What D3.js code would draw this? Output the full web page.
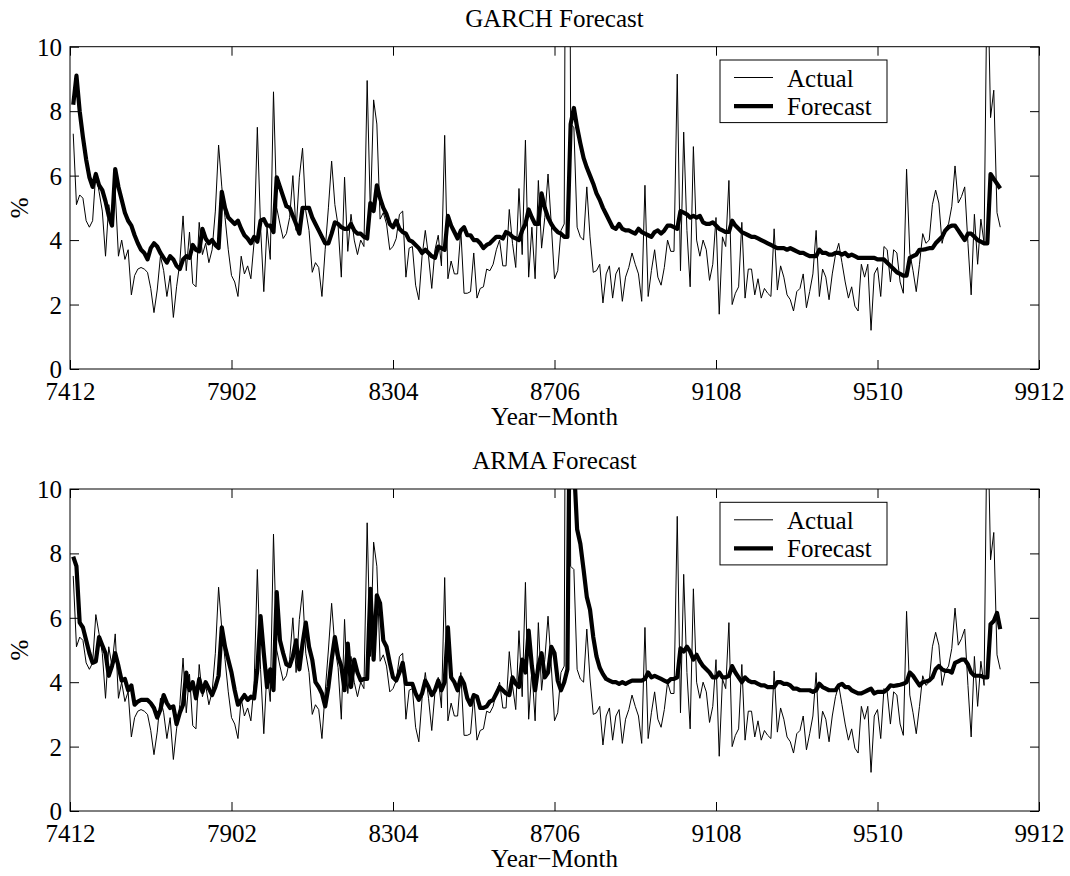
<!DOCTYPE html>
<html>
<head>
<meta charset="utf-8">
<script src="https://cdnjs.cloudflare.com/ajax/libs/d3/7.8.5/d3.min.js"></script>
<style>
body { margin: 0; background: #fff; }
text { font-family: "Liberation Serif", "Times New Roman", serif; font-size: 25px; fill: #000; }
</style>
</head>
<body>
<script>
var w = 1070;
var h = 876;

// months counted from 7412, one tick every 50 months
var tickMonths = [0, 50, 100, 150, 200, 250, 300];
var tickLabels = ["7412", "7902", "8304", "8706", "9108", "9510", "9912"];
var yTicks = [0, 2, 4, 6, 8, 10];

// first observation is 7501
var firstMonth = 1;

var actual = [
    7.3, 5.1, 5.4, 5.3, 4.6, 4.4, 4.6, 6.1, 5.5, 4.9,
    3.5, 5.1, 4.5, 5.5, 3.5, 4.0, 3.4, 3.7, 2.3, 2.9,
    3.1, 3.15, 3.1, 3.0, 2.5, 1.75, 2.45, 3.5, 3.05, 2.25,
    2.9, 1.6, 2.55, 3.3, 4.75, 3.05, 4.25, 2.65, 2.55, 4.55,
    3.55, 3.9, 3.3, 3.7, 4.9, 6.95, 5.65, 4.7, 3.7, 2.9,
    2.7, 2.25, 3.5, 2.95, 3.2, 2.8, 3.95, 7.5, 4.4, 2.4,
    4.4, 3.4, 8.6, 5.0, 4.5, 4.05, 4.2, 4.7, 6.0, 4.3,
    5.95, 6.85, 4.9, 4.3, 3.0, 3.3, 3.15, 2.25, 3.7, 5.0,
    6.45, 5.1, 4.45, 2.85, 5.95, 3.65, 4.8, 4.0, 3.55, 4.0,
    3.8, 8.95, 4.8, 8.35, 7.6, 4.65, 4.85, 4.5, 3.7, 3.8,
    4.05, 4.8, 4.9, 2.85, 3.75, 3.8, 2.6, 2.15, 3.5, 4.3,
    3.5, 2.5, 3.7, 4.15, 3.2, 7.25, 2.8, 3.35, 2.95, 2.95,
    4.3, 2.35, 2.35, 2.4, 3.6, 2.2, 2.5, 2.55, 3.1, 3.05,
    3.25, 3.7, 4.0, 3.2, 3.2, 4.95, 3.9, 3.15, 5.6, 3.55,
    7.1, 2.85, 4.4, 2.8, 5.85, 3.75, 4.7, 6.05, 4.5, 2.8,
    3.05, 4.3, 4.5, 30, 7.6, 7.5, 4.4, 4.1, 4.0, 5.65,
    4.1, 3.0, 3.05, 3.25, 2.05, 2.95, 3.2, 2.2, 2.95, 3.15,
    2.1, 2.85, 3.15, 3.6, 3.25, 2.95, 2.1, 5.7, 2.25, 3.05,
    3.7, 2.85, 2.6, 3.15, 4.0, 3.65, 3.65, 9.15, 3.05, 7.35,
    4.3, 2.55, 6.9, 4.0, 3.5, 4.0, 3.7, 2.75, 3.25, 4.7,
    1.7, 4.1, 3.8, 5.85, 2.0, 2.35, 2.55, 4.55, 2.2, 3.1,
    3.1, 2.3, 2.8, 2.2, 2.5, 2.35, 2.25, 4.35, 2.45, 3.2,
    2.85, 2.3, 2.15, 1.8, 2.4, 2.5, 2.95, 1.9, 2.4, 2.95,
    4.3, 2.25, 3.1, 2.85, 2.15, 2.95, 3.55, 3.9, 3.3, 2.7,
    2.2, 2.55, 1.95, 1.8, 3.25, 2.85, 3.25, 1.2, 2.95, 3.15,
    2.25, 3.8, 3.7, 2.7, 3.7, 3.6, 2.7, 2.35, 6.2, 3.6,
    3.05, 2.4, 3.25, 4.2, 3.9, 4.0, 5.1, 5.55, 5.15, 3.9,
    4.35, 4.5, 5.05, 6.3, 5.15, 5.35, 5.65, 3.9, 2.3, 4.8,
    3.25, 4.65, 3.9, 13, 7.8, 8.65, 4.85, 4.4
];

var garch = [
    8.2, 9.1, 8.0, 7.2, 6.5, 5.95, 5.65, 6.05, 5.7, 5.55,
    5.2, 4.75, 4.45, 6.2, 5.65, 5.25, 4.85, 4.6, 4.45, 4.15,
    3.9, 3.7, 3.6, 3.4, 3.75, 3.9, 3.8, 3.6, 3.45, 3.3,
    3.5, 3.4, 3.2, 3.1, 3.4, 3.5, 3.45, 3.85, 3.7, 3.65,
    4.35, 4.05, 3.9, 4.0, 3.85, 3.75, 5.5, 5.0, 4.7, 4.6,
    4.5, 4.6, 4.35, 4.15, 4.05, 3.9, 4.1, 3.95, 4.6, 4.65,
    4.45, 4.45, 4.25, 5.95, 5.65, 5.35, 5.05, 5.0, 4.75, 4.5,
    4.2, 5.0, 5.0, 5.0, 4.7, 4.5, 4.3, 4.1, 3.9, 3.9,
    4.2, 4.55, 4.5, 4.4, 4.35, 4.35, 4.5, 4.3, 4.2, 4.2,
    4.1, 4.05, 5.15, 4.9, 5.7, 5.3, 5.0, 4.8, 4.5, 4.4,
    4.6, 4.35, 4.25, 4.2, 4.0, 3.95, 3.85, 3.75, 3.6, 3.7,
    3.6, 3.5, 3.45, 3.8, 3.75, 3.7, 4.75, 4.45, 4.25, 4.05,
    4.3, 4.4, 4.15, 4.15, 4.0, 4.0, 3.9, 3.75, 3.85, 3.9,
    4.0, 4.1, 4.1, 4.05, 4.25, 4.2, 4.1, 4.05, 4.0, 4.3,
    4.5, 4.95, 4.7, 4.5, 4.5, 5.45, 5.0, 4.7, 4.5, 4.35,
    4.25, 4.2, 4.1, 4.1, 7.6, 8.1, 7.5, 7.0, 6.55, 6.25,
    6.0, 5.75, 5.45, 5.25, 5.0, 4.8, 4.6, 4.4, 4.35, 4.5,
    4.35, 4.3, 4.3, 4.25, 4.2, 4.35, 4.25, 4.2, 4.15, 4.1,
    4.25, 4.3, 4.2, 4.3, 4.45, 4.45, 4.4, 4.35, 4.9, 4.85,
    4.8, 4.7, 4.75, 4.7, 4.75, 4.55, 4.5, 4.5, 4.55, 4.45,
    4.35, 4.3, 4.25, 4.25, 4.6, 4.45, 4.35, 4.25, 4.2, 4.15,
    4.1, 4.1, 4.05, 4.0, 3.95, 3.9, 3.85, 3.8, 3.75, 3.75,
    3.75, 3.7, 3.75, 3.7, 3.65, 3.6, 3.6, 3.55, 3.5, 3.5,
    3.5, 3.7, 3.6, 3.6, 3.55, 3.55, 3.6, 3.6, 3.55, 3.6,
    3.5, 3.55, 3.5, 3.45, 3.45, 3.45, 3.45, 3.45, 3.45, 3.4,
    3.4, 3.4, 3.3, 3.2, 3.1, 3.0, 2.95, 2.9, 2.9, 3.45,
    3.5, 3.55, 3.7, 3.7, 3.72, 3.75, 3.75, 3.9, 4.0, 4.1,
    4.3, 4.4, 4.45, 4.45, 4.3, 4.15, 4.0, 4.2, 4.2, 4.1,
    4.0, 3.95, 3.9, 3.9, 6.05, 5.9, 5.75, 5.6
];

var arma = [
    7.9, 7.6, 5.85, 5.7, 5.3, 4.9, 4.6, 4.65, 5.4, 5.15,
    4.9, 4.2, 4.5, 4.9, 4.5, 4.05, 4.1, 3.75, 3.9, 3.3,
    3.4, 3.45, 3.45, 3.45, 3.35, 3.2, 2.9, 3.15, 3.6, 3.35,
    3.2, 3.25, 2.7, 3.05, 3.3, 4.3, 3.75, 4.0, 3.5, 4.1,
    3.7, 4.0, 3.8, 3.6, 3.85, 4.2, 5.7, 5.1, 4.7, 4.3,
    3.75, 3.3, 3.45, 3.6, 3.45, 3.55, 3.5, 4.4, 6.05, 4.9,
    3.85, 4.4, 3.75, 6.8, 5.3, 4.9, 4.55, 4.5, 4.8, 5.3,
    4.4, 5.2, 5.85, 5.1, 4.7, 4.0, 3.85, 3.65, 3.25, 3.85,
    4.7, 5.4, 4.8, 4.5, 3.75, 5.2, 3.85, 4.7, 4.3, 4.05,
    4.1, 4.1, 6.9, 4.7, 6.7, 6.45, 5.3, 5.1, 4.6, 4.15,
    4.05, 4.3, 4.6, 3.95, 3.95, 3.95, 3.65, 3.45, 3.65, 4.05,
    3.85, 3.6, 3.75, 4.05, 3.75, 4.0, 5.7, 4.15, 4.0, 3.75,
    4.15, 3.95, 3.5, 3.3, 3.6, 3.55, 3.2, 3.2, 3.25, 3.4,
    3.45, 3.65, 3.85, 3.75, 3.65, 3.6, 4.15, 3.95, 3.85, 4.7,
    4.3, 5.6, 4.5, 3.75, 4.5, 4.9, 4.15, 4.3, 5.1, 4.9,
    4.05, 3.75, 4.0, 4.4, 16, 10.8, 8.75, 8.3, 7.5, 6.65,
    6.25, 5.4, 4.8, 4.45, 4.25, 4.1, 4.05, 4.0, 4.0, 3.95,
    4.0, 3.95, 4.0, 4.05, 4.05, 4.05, 4.05, 4.1, 4.3, 4.15,
    4.2, 4.15, 4.1, 4.05, 4.0, 4.1, 4.1, 4.15, 5.05, 4.95,
    5.1, 4.95, 4.7, 4.85, 4.65, 4.5, 4.4, 4.3, 4.15, 4.15,
    4.3, 4.15, 4.15, 4.2, 4.5, 4.3, 4.15, 4.0, 4.15, 4.05,
    4.0, 4.0, 3.95, 3.9, 3.9, 3.85, 3.85, 3.85, 4.0, 4.0,
    3.95, 3.95, 3.9, 3.8, 3.8, 3.75, 3.75, 3.75, 3.75, 3.7,
    3.75, 3.95, 3.85, 3.8, 3.75, 3.75, 3.75, 3.9, 3.95, 3.85,
    3.85, 3.75, 3.7, 3.65, 3.65, 3.7, 3.75, 3.8, 3.65, 3.7,
    3.7, 3.7, 3.78, 3.9, 3.88, 3.9, 3.92, 3.95, 4.0, 4.3,
    4.2, 4.05, 3.9, 4.0, 4.02, 4.05, 4.15, 4.4, 4.5, 4.4,
    4.35, 4.35, 4.3, 4.6, 4.65, 4.7, 4.7, 4.55, 4.3, 4.2,
    4.2, 4.2, 4.15, 4.15, 5.8, 5.9, 6.15, 5.65
];

var left = 70;
var right = 1039;

var panels = [
    {title: "GARCH Forecast", forecast: garch, top: 46.7, bottom: 369},
    {title: "ARMA Forecast", forecast: arma, top: 489, bottom: 811}
];

var x = d3.scaleLinear()
    .domain([0, 300])
    .range([left, right]);

var svg = d3.select("body")
    .append("svg")
    .attr("width", w)
    .attr("height", h);

svg.append("rect")
    .attr("width", w)
    .attr("height", h)
    .attr("fill", "#fff");

panels.forEach(function(p, k) {
    var y = d3.scaleLinear()
        .domain([0, 10])
        .range([p.bottom, p.top]);

    var clipId = "clip" + k;
    svg.append("clipPath")
        .attr("id", clipId)
        .append("rect")
        .attr("x", left)
        .attr("y", p.top)
        .attr("width", right - left)
        .attr("height", p.bottom - p.top);

    var line = d3.line()
        .x(function(d, i) { return x(firstMonth + i); })
        .y(function(d) { return y(d); });

    var g = svg.append("g");

    g.append("path")
        .datum(actual)
        .attr("d", line)
        .attr("fill", "none")
        .attr("stroke", "#000")
        .attr("stroke-width", 1)
        .attr("clip-path", "url(#" + clipId + ")");

    g.append("path")
        .datum(p.forecast)
        .attr("d", line)
        .attr("fill", "none")
        .attr("stroke", "#000")
        .attr("stroke-width", 4.2)
        .attr("stroke-linejoin", "round")
        .attr("clip-path", "url(#" + clipId + ")");

    // ticks point inward on all four sides
    var bottomAxis = g.append("g")
        .attr("transform", "translate(0," + p.bottom + ")")
        .call(d3.axisBottom(x)
            .tickValues(tickMonths)
            .tickFormat(function(d, i) { return tickLabels[i]; })
            .tickSizeInner(-9)
            .tickSizeOuter(0));
    bottomAxis.selectAll("text")
        .attr("y", 31)
        .attr("dy", null);

    g.append("g")
        .attr("transform", "translate(0," + p.top + ")")
        .call(d3.axisTop(x)
            .tickValues(tickMonths)
            .tickFormat("")
            .tickSizeInner(-9)
            .tickSizeOuter(0));

    var leftAxis = g.append("g")
        .attr("transform", "translate(" + left + ",0)")
        .call(d3.axisLeft(y)
            .tickValues(yTicks)
            .tickSizeInner(-9)
            .tickSizeOuter(0));
    leftAxis.selectAll("text")
        .attr("x", -8)
        .attr("dy", "0.34em");

    g.append("g")
        .attr("transform", "translate(" + right + ",0)")
        .call(d3.axisRight(y)
            .tickValues(yTicks)
            .tickFormat("")
            .tickSizeInner(-9)
            .tickSizeOuter(0));

    g.selectAll(".domain").remove();
    g.selectAll(".tick line").attr("stroke", "#000");
    g.selectAll(".tick text")
        .style("font-family", "'Liberation Serif', 'Times New Roman', serif")
        .style("font-size", "25px")
        .attr("fill", "#000");

    g.append("rect")
        .attr("x", left)
        .attr("y", p.top)
        .attr("width", right - left)
        .attr("height", p.bottom - p.top)
        .attr("fill", "none")
        .attr("stroke", "#000")
        .attr("stroke-width", 1);

    g.append("text")
        .attr("x", (left + right) / 2)
        .attr("y", p.top - 20)
        .attr("text-anchor", "middle")
        .text(p.title);

    g.append("text")
        .attr("x", (left + right) / 2)
        .attr("y", p.bottom + 56)
        .attr("text-anchor", "middle")
        .text("Year\u2212Month");

    g.append("text")
        .attr("transform", "translate(28," + ((p.top + p.bottom) / 2) + ") rotate(-90)")
        .attr("text-anchor", "middle")
        .text("%");

    // legend
    var lg = g.append("g")
        .attr("transform", "translate(720," + (p.top + 13.3) + ")");
    lg.append("rect")
        .attr("width", 167)
        .attr("height", 62.6)
        .attr("fill", "#fff")
        .attr("stroke", "#000")
        .attr("stroke-width", 1);

    var items = [{name: "Actual", width: 1}, {name: "Forecast", width: 4.2}];
    items.forEach(function(it, j) {
        var ly = 17.5 + j * 28.6;
        lg.append("line")
            .attr("x1", 14)
            .attr("x2", 53)
            .attr("y1", ly)
            .attr("y2", ly)
            .attr("stroke", "#000")
            .attr("stroke-width", it.width);
        lg.append("text")
            .attr("x", 67)
            .attr("y", ly + 9)
            .text(it.name);
    });
});
</script>
</body>
</html>
